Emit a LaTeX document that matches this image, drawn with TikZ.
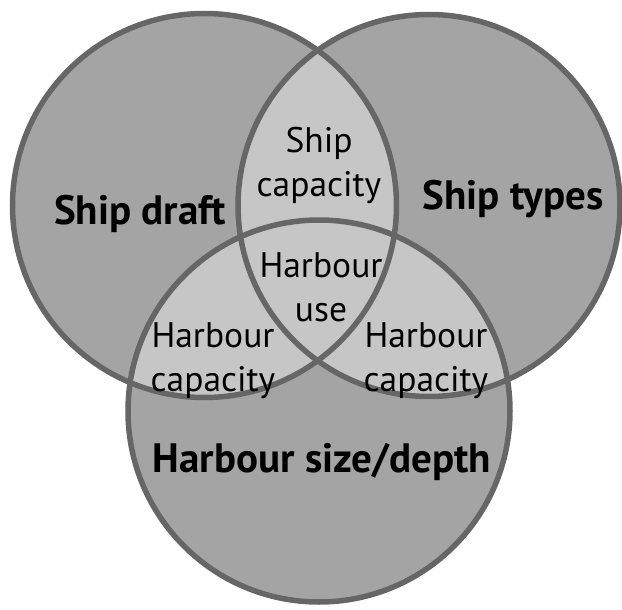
\documentclass[tikz,border=0pt]{standalone}
\usepackage{fontspec}
\setmainfont{PT Sans}
\usepackage{xcolor}
\usepackage{tikz}

\definecolor{ringgray}{HTML}{A4A4A4}
\definecolor{lensgray}{HTML}{C6C6C6}
\definecolor{edgegray}{HTML}{666666}

\tikzset{
	bigtext/.style={font=\fontsize{41}{46}\selectfont\bfseries, anchor=base},
	smalltext/.style={font=\fontsize{35.5}{43.5}\selectfont, align=center, anchor=base},
	rim/.style={draw=edgegray, line width=5.5pt}
}

\begin{document}
\begin{tikzpicture}[x=1pt,y=-1pt]
			\useasboundingbox (0,0) rectangle (622,610);
			% 定义圆心
			\coordinate (draft) at (204.5,205.5);
			\coordinate (types) at (429,205.5);
			\coordinate (size) at (319,411);
			% 填充圆
			\fill[ringgray] (draft) circle (192pt) (types) circle (191pt) (size) circle (191pt);
			% 填充交集
			\begin{scope}
				\clip (draft) circle (192pt);
				\fill[lensgray] (types) circle (191pt);
				\fill[lensgray] (size) circle (191pt);
			\end{scope}
			\begin{scope}
				\clip (types) circle (191pt);
				\fill[lensgray] (size) circle (191pt);
			\end{scope}
			% 划圆边
			\draw[rim] (draft) circle (192pt);
			\draw[rim] (types) circle (191pt);
			\draw[rim] (size) circle (191pt);
			% 文字
			\node[bigtext] (draftlabel) at (140,224) {Ship draft};
			\node[bigtext] (typeslabel) at (513,209.5) {Ship types};
			\node[bigtext] (sizelabel) at (322,472) {Harbour size/depth};
			\node[smalltext] (shipcap) at (319,196) {Ship\\capacity};
			\node[smalltext] (harbouruse) at (321,321) {Harbour\\use};
			\node[smalltext] (leftcap) at (213,391) {Harbour\\capacity};
			\node[smalltext] (rightcap) at (426,391) {Harbour\\capacity};
		\end{tikzpicture}
\end{document}
